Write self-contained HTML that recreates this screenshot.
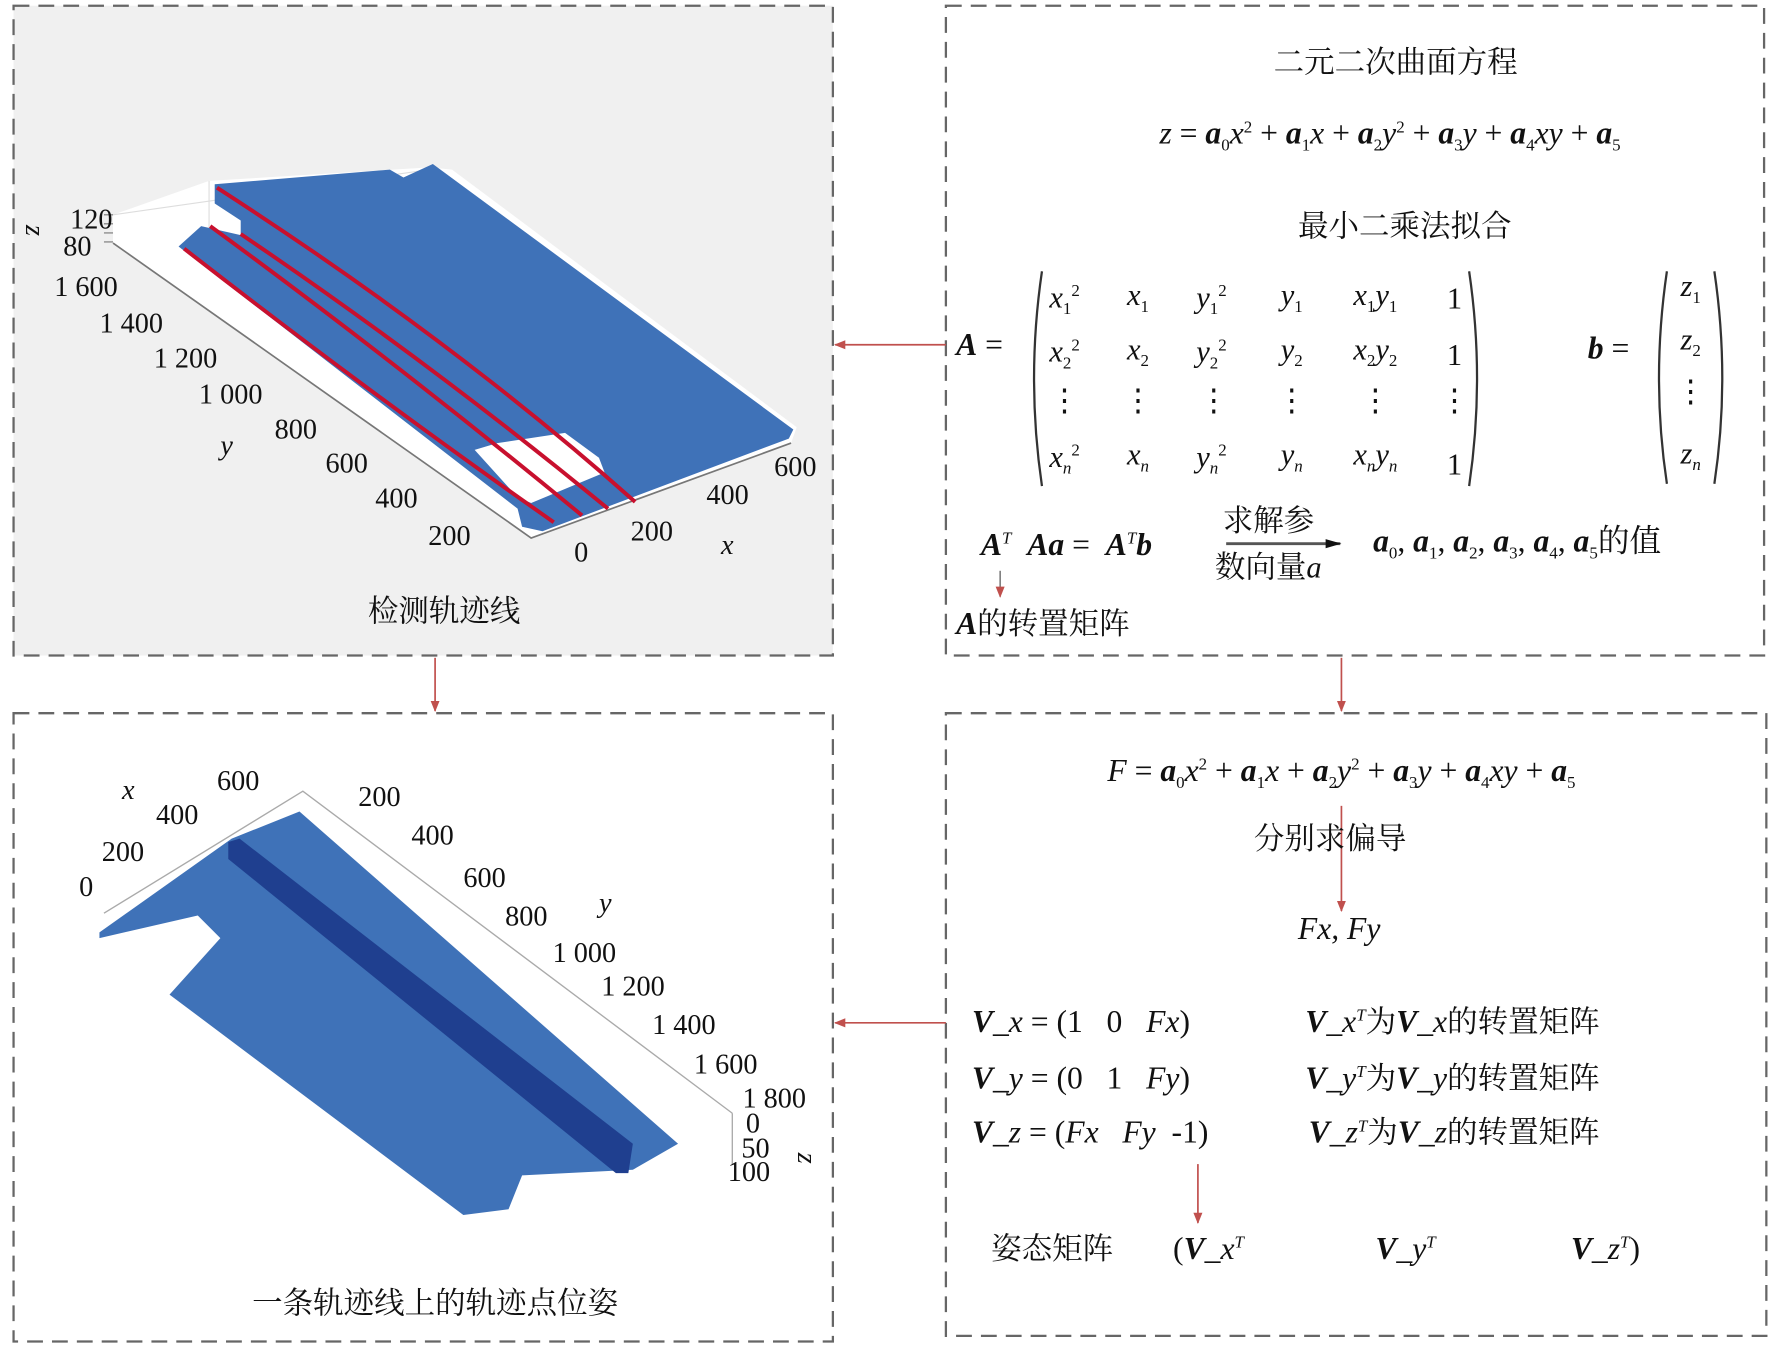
<!DOCTYPE html>
<html><head><meta charset="utf-8"><style>
html,body{margin:0;padding:0;background:#fff;}
svg{display:block}
text{font-family:"Liberation Serif","Noto Serif CJK SC","Noto Sans CJK SC",serif;fill:#111;white-space:pre;}
.m{font-style:italic;}
.b{font-weight:bold;font-style:italic;}
.cn{font-family:"Liberation Serif","Noto Serif CJK SC",serif;}
</style></head><body>
<svg width="1772" height="1345" viewBox="0 0 1568 1190" xmlns="http://www.w3.org/2000/svg">
<defs>
<marker id="ar" markerWidth="10" markerHeight="10" refX="9" refY="5" orient="auto" markerUnits="userSpaceOnUse"><path d="M0,1 L10,5 L0,9 z" fill="#c0504d"/></marker>
<marker id="ak" markerWidth="14" markerHeight="10" refX="13" refY="5" orient="auto" markerUnits="userSpaceOnUse"><path d="M0,1 L14,5 L0,9 z" fill="#111"/></marker>
</defs>
<rect x="12" y="5" width="725" height="575" fill="#f0f0f0"/>
<g fill="none" stroke="#666" stroke-width="2" stroke-dasharray="14 8">
<rect x="12" y="5" width="725" height="575"/>
<rect x="837" y="5" width="724" height="575"/>
<rect x="12" y="631" width="725" height="556"/>
<rect x="837" y="631" width="726" height="551"/>
</g>
<g stroke="#c0504d" stroke-width="1.5" fill="none">
<line x1="837" y1="305" x2="739" y2="305" marker-end="url(#ar)"/>
<line x1="385" y1="582" x2="385" y2="629" marker-end="url(#ar)"/>
<line x1="1187" y1="582" x2="1187" y2="629" marker-end="url(#ar)"/>
<line x1="837" y1="905" x2="739" y2="905" marker-end="url(#ar)"/>
<line x1="1187" y1="713" x2="1187" y2="806" marker-end="url(#ar)"/>
<line x1="1060" y1="1030" x2="1060" y2="1082" marker-end="url(#ar)"/>
</g>

<!-- top-left plot -->
<polygon fill="#fff" points="100,215 100,190 185,160 380,148 400,150 705,378 700,392 470,476"/>
<g stroke="#ddd" stroke-width="1" fill="none">
<path d="M100,190 L380,150 L700,380"/>
<path d="M185,160 L185,220"/>
</g>
<path d="M100,215 L470,476 L700,392" stroke="#777" stroke-width="1.5" fill="none"/>
<path d="M92,190 L100,190 M92,198 L100,198 M92,206 L100,206 M92,214 L100,214" stroke="#777"/>
<polygon fill="#3f72b8" points="190,163 345,150 357,157 383,145 702,380 698,388 480,470 462,466 458,450 158,218 178,200 213,208 213,195 190,180"/>
<polygon fill="#fff" points="420,398 440,392 500,383 530,405 535,418 470,445 458,440"/>
<g stroke="#c8102e" stroke-width="3.5" fill="none">
<path d="M163,220 Q330,350 490,462"/>
<path d="M186,200 Q350,320 515,456"/>
<path d="M213,207 Q380,320 538,450"/>
<path d="M192,166 Q400,300 562,444"/>
</g>
<g font-size="25">
<text x="62" y="202">120</text>
<text x="56" y="226">80</text>
<text x="20" y="212" class="m" transform="rotate(90 28 207)">z</text>
<text x="48" y="262">1 600</text>
<text x="88" y="294">1 400</text>
<text x="136" y="325">1 200</text>
<text x="176" y="357">1 000</text>
<text x="243" y="388">800</text>
<text x="195" y="402" class="m">y</text>
<text x="288" y="418">600</text>
<text x="332" y="449">400</text>
<text x="379" y="482">200</text>
<text x="508" y="497">0</text>
<text x="558" y="478">200</text>
<text x="625" y="446">400</text>
<text x="685" y="421">600</text>
<text x="638" y="490" class="m">x</text>
<text x="393" y="550" text-anchor="middle" class="cn" font-size="27">检测轨迹线</text>
</g>

<!-- bottom-left plot -->
<g stroke="#aaa" stroke-width="1.2" fill="none">
<path d="M92,808 L268,700 L648,985"/>
<path d="M648,985 L648,1030"/>
</g>
<polygon fill="#3f72b8" points="88,830 175,810 195,830 150,880 410,1075 450,1070 462,1040 560,1035 600,1012 265,718 205,742 88,825"/>
<polygon fill="#1f3f8f" points="202,745 212,742 560,1012 556,1038 545,1038 202,760"/>
<g font-size="25">
<text x="108" y="707" class="m">x</text>
<text x="192" y="699">600</text>
<text x="138" y="729">400</text>
<text x="90" y="762">200</text>
<text x="70" y="793">0</text>
<text x="317" y="713">200</text>
<text x="364" y="747">400</text>
<text x="410" y="785">600</text>
<text x="447" y="819">800</text>
<text x="530" y="807" class="m">y</text>
<text x="489" y="851">1 000</text>
<text x="532" y="881">1 200</text>
<text x="577" y="915">1 400</text>
<text x="614" y="950">1 600</text>
<text x="657" y="980">1 800</text>
<text x="660" y="1002">0</text>
<text x="656" y="1024">50</text>
<text x="644" y="1045">100</text>
<text x="706" y="1036" class="m" transform="rotate(90 714 1028)">z</text>
<text x="385" y="1162" text-anchor="middle" class="cn" font-size="27">一条轨迹线上的轨迹点位姿</text>
</g>

<!-- top-right -->
<g font-size="28">
<text x="1235" y="64" text-anchor="middle" class="cn" font-size="27">二元二次曲面方程</text>
<text x="1230" y="127" text-anchor="middle"><tspan class="m">z</tspan> = <tspan class="b">a</tspan><tspan font-size="15" dy="6">0</tspan><tspan class="m" dy="-6">x</tspan><tspan font-size="15" dy="-10">2</tspan><tspan dy="10"> + </tspan><tspan class="b">a</tspan><tspan font-size="15" dy="6">1</tspan><tspan class="m" dy="-6">x</tspan> + <tspan class="b">a</tspan><tspan font-size="15" dy="6">2</tspan><tspan class="m" dy="-6">y</tspan><tspan font-size="15" dy="-10">2</tspan><tspan dy="10"> + </tspan><tspan class="b">a</tspan><tspan font-size="15" dy="6">3</tspan><tspan class="m" dy="-6">y</tspan> + <tspan class="b">a</tspan><tspan font-size="15" dy="6">4</tspan><tspan class="m" dy="-6">xy</tspan> + <tspan class="b">a</tspan><tspan font-size="15" dy="6">5</tspan></text>
<text x="1243" y="209" text-anchor="middle" class="cn" font-size="27">最小二乘法拟合</text>
<text x="846" y="314"><tspan class="b">A</tspan> =</text>
<text x="1405" y="317"><tspan class="b">b</tspan> =</text>
</g>
<g stroke="#333" stroke-width="2" fill="none">
<path d="M922,240 Q908,335 922,430"/>
<path d="M1300,240 Q1314,335 1300,430"/>
<path d="M1475,240 Q1461,335 1475,428"/>
<path d="M1517,240 Q1531,335 1517,428"/>
</g>
<g font-size="27" text-anchor="middle">
<text x="942" y="272"><tspan class="m">x</tspan><tspan font-size="15" dy="6">1</tspan><tspan font-size="15" dy="-16">2</tspan></text>
<text x="1007" y="270"><tspan class="m">x</tspan><tspan font-size="15" dy="6">1</tspan></text>
<text x="1072" y="272"><tspan class="m">y</tspan><tspan font-size="15" dy="6">1</tspan><tspan font-size="15" dy="-16">2</tspan></text>
<text x="1143" y="270"><tspan class="m">y</tspan><tspan font-size="15" dy="6">1</tspan></text>
<text x="1217" y="270"><tspan class="m">x</tspan><tspan font-size="15" dy="6">1</tspan><tspan class="m" dy="-6">y</tspan><tspan font-size="15" dy="6">1</tspan></text>
<text x="1287" y="273">1</text>
<text x="942" y="320"><tspan class="m">x</tspan><tspan font-size="15" dy="6">2</tspan><tspan font-size="15" dy="-16">2</tspan></text>
<text x="1007" y="318"><tspan class="m">x</tspan><tspan font-size="15" dy="6">2</tspan></text>
<text x="1072" y="320"><tspan class="m">y</tspan><tspan font-size="15" dy="6">2</tspan><tspan font-size="15" dy="-16">2</tspan></text>
<text x="1143" y="318"><tspan class="m">y</tspan><tspan font-size="15" dy="6">2</tspan></text>
<text x="1217" y="318"><tspan class="m">x</tspan><tspan font-size="15" dy="6">2</tspan><tspan class="m" dy="-6">y</tspan><tspan font-size="15" dy="6">2</tspan></text>
<text x="1287" y="323">1</text>
<text x="942" y="363">⋮</text><text x="1007" y="363">⋮</text><text x="1074" y="363">⋮</text><text x="1143" y="363">⋮</text><text x="1217" y="363">⋮</text><text x="1287" y="363">⋮</text>
<text x="942" y="413"><tspan class="m">x</tspan><tspan font-size="15" dy="6" class="m">n</tspan><tspan font-size="15" dy="-16">2</tspan></text>
<text x="1007" y="411"><tspan class="m">x</tspan><tspan font-size="15" dy="6" class="m">n</tspan></text>
<text x="1072" y="413"><tspan class="m">y</tspan><tspan font-size="15" dy="6" class="m">n</tspan><tspan font-size="15" dy="-16">2</tspan></text>
<text x="1143" y="411"><tspan class="m">y</tspan><tspan font-size="15" dy="6" class="m">n</tspan></text>
<text x="1217" y="411"><tspan class="m">x</tspan><tspan font-size="15" dy="6" class="m">n</tspan><tspan class="m" dy="-6">y</tspan><tspan font-size="15" dy="6" class="m">n</tspan></text>
<text x="1287" y="420">1</text>
<text x="1496" y="262"><tspan class="m">z</tspan><tspan font-size="15" dy="6">1</tspan></text>
<text x="1496" y="309"><tspan class="m">z</tspan><tspan font-size="15" dy="6">2</tspan></text>
<text x="1496" y="355">⋮</text>
<text x="1496" y="410"><tspan class="m">z</tspan><tspan font-size="15" dy="6" class="m">n</tspan></text>
</g>
<g font-size="28">
<text x="868" y="491"><tspan class="b">A</tspan><tspan font-size="15" dy="-10" class="m">T</tspan><tspan dy="10">  </tspan><tspan class="b">Aa</tspan> =  <tspan class="b">A</tspan><tspan font-size="15" dy="-10" class="m">T</tspan><tspan dy="10" class="b">b</tspan></text>
<text x="1082" y="470" class="cn" font-size="27">求解参</text>
<text x="1075" y="511" class="cn" font-size="27">数向量<tspan class="m">a</tspan></text>
<text x="1215" y="488"><tspan class="b">a</tspan><tspan font-size="15" dy="6">0</tspan><tspan dy="-6">, </tspan><tspan class="b">a</tspan><tspan font-size="15" dy="6">1</tspan><tspan dy="-6">, </tspan><tspan class="b">a</tspan><tspan font-size="15" dy="6">2</tspan><tspan dy="-6">, </tspan><tspan class="b">a</tspan><tspan font-size="15" dy="6">3</tspan><tspan dy="-6">, </tspan><tspan class="b">a</tspan><tspan font-size="15" dy="6">4</tspan><tspan dy="-6">, </tspan><tspan class="b">a</tspan><tspan font-size="15" dy="6">5</tspan><tspan dy="-6" class="cn">的值</tspan></text>
<text x="846" y="561"><tspan class="b">A</tspan><tspan class="cn" font-size="27">的转置矩阵</tspan></text>
</g>
<line x1="1085" y1="481" x2="1186" y2="481" stroke="#555" stroke-width="2.5" marker-end="url(#ak)"/>
<line x1="885" y1="505" x2="885" y2="528" stroke="#666" stroke-width="1.2" marker-end="url(#ar)"/>

<!-- bottom-right -->
<g font-size="28">
<text x="1187" y="691" text-anchor="middle"><tspan class="m">F</tspan> = <tspan class="b">a</tspan><tspan font-size="15" dy="6">0</tspan><tspan class="m" dy="-6">x</tspan><tspan font-size="15" dy="-10">2</tspan><tspan dy="10"> + </tspan><tspan class="b">a</tspan><tspan font-size="15" dy="6">1</tspan><tspan class="m" dy="-6">x</tspan> + <tspan class="b">a</tspan><tspan font-size="15" dy="6">2</tspan><tspan class="m" dy="-6">y</tspan><tspan font-size="15" dy="-10">2</tspan><tspan dy="10"> + </tspan><tspan class="b">a</tspan><tspan font-size="15" dy="6">3</tspan><tspan class="m" dy="-6">y</tspan> + <tspan class="b">a</tspan><tspan font-size="15" dy="6">4</tspan><tspan class="m" dy="-6">xy</tspan> + <tspan class="b">a</tspan><tspan font-size="15" dy="6">5</tspan></text>
<text x="1177" y="751" text-anchor="middle" class="cn" font-size="27">分别求偏导</text>
<text x="1185" y="831" text-anchor="middle" class="m">Fx, Fy</text>
<text x="860" y="913"><tspan class="b">V</tspan>_<tspan class="m">x</tspan> = (1   0   <tspan class="m">Fx</tspan>)</text>
<text x="860" y="963"><tspan class="b">V</tspan>_<tspan class="m">y</tspan> = (0   1   <tspan class="m">Fy</tspan>)</text>
<text x="860" y="1011"><tspan class="b">V</tspan>_<tspan class="m">z</tspan> = (<tspan class="m">Fx   Fy</tspan>  -1)</text>
<text x="1155" y="913"><tspan class="b">V</tspan>_<tspan class="m">x</tspan><tspan font-size="15" dy="-10" class="m">T</tspan><tspan dy="10" class="cn" font-size="27">为</tspan><tspan class="b">V</tspan>_<tspan class="m">x</tspan><tspan class="cn" font-size="27">的转置矩阵</tspan></text>
<text x="1155" y="963"><tspan class="b">V</tspan>_<tspan class="m">y</tspan><tspan font-size="15" dy="-10" class="m">T</tspan><tspan dy="10" class="cn" font-size="27">为</tspan><tspan class="b">V</tspan>_<tspan class="m">y</tspan><tspan class="cn" font-size="27">的转置矩阵</tspan></text>
<text x="1158" y="1011"><tspan class="b">V</tspan>_<tspan class="m">z</tspan><tspan font-size="15" dy="-10" class="m">T</tspan><tspan dy="10" class="cn" font-size="27">为</tspan><tspan class="b">V</tspan>_<tspan class="m">z</tspan><tspan class="cn" font-size="27">的转置矩阵</tspan></text>
<text x="877" y="1114" class="cn" font-size="27">姿态矩阵</text>
<text x="1038" y="1114">(<tspan class="b">V</tspan>_<tspan class="m">x</tspan><tspan font-size="15" dy="-10" class="m">T</tspan></text>
<text x="1217" y="1114"><tspan class="b">V</tspan>_<tspan class="m">y</tspan><tspan font-size="15" dy="-10" class="m">T</tspan></text>
<text x="1390" y="1114"><tspan class="b">V</tspan>_<tspan class="m">z</tspan><tspan font-size="15" dy="-10" class="m">T</tspan><tspan dy="10">)</tspan></text>
</g>
</svg>
</body></html>
